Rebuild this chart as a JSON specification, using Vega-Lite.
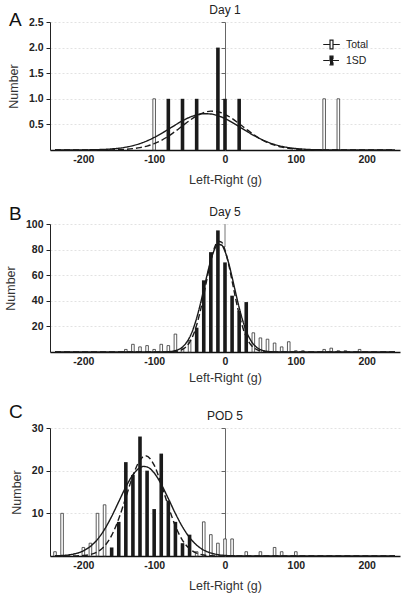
{
  "$schema": "https://vega.github.io/schema/vega-lite/v6.json",
  "padding": {"left": 4, "top": 4, "right": 2, "bottom": 2},
  "spacing": 19,
  "datasets": {
    "barsA": [
      {"x": -100, "n": 1, "g": "Total"}, {"x": -80, "n": 1, "g": "1SD"}, {"x": -60, "n": 1, "g": "1SD"},
      {"x": -40, "n": 1, "g": "1SD"}, {"x": -10, "n": 2, "g": "1SD"}, {"x": 0, "n": 1, "g": "1SD"},
      {"x": 20, "n": 1, "g": "1SD"}, {"x": 140, "n": 1, "g": "Total"}, {"x": 160, "n": 1, "g": "Total"}
    ],
    "curveA": [
      {"x": -240, "v": 0, "s": "Total"}, {"x": -220, "v": 0.0004, "s": "Total"}, {"x": -200, "v": 0.002, "s": "Total"},
      {"x": -180, "v": 0.007, "s": "Total"}, {"x": -170, "v": 0.012, "s": "Total"}, {"x": -160, "v": 0.021, "s": "Total"},
      {"x": -150, "v": 0.034, "s": "Total"}, {"x": -140, "v": 0.055, "s": "Total"}, {"x": -130, "v": 0.085, "s": "Total"},
      {"x": -120, "v": 0.126, "s": "Total"}, {"x": -110, "v": 0.179, "s": "Total"}, {"x": -100, "v": 0.245, "s": "Total"},
      {"x": -90, "v": 0.321, "s": "Total"}, {"x": -80, "v": 0.405, "s": "Total"}, {"x": -70, "v": 0.49, "s": "Total"},
      {"x": -60, "v": 0.571, "s": "Total"}, {"x": -50, "v": 0.639, "s": "Total"}, {"x": -40, "v": 0.686, "s": "Total"},
      {"x": -30, "v": 0.709, "s": "Total"}, {"x": -20, "v": 0.703, "s": "Total"}, {"x": -10, "v": 0.67, "s": "Total"},
      {"x": 0, "v": 0.614, "s": "Total"}, {"x": 10, "v": 0.54, "s": "Total"}, {"x": 20, "v": 0.456, "s": "Total"},
      {"x": 30, "v": 0.371, "s": "Total"}, {"x": 40, "v": 0.289, "s": "Total"}, {"x": 50, "v": 0.217, "s": "Total"},
      {"x": 60, "v": 0.156, "s": "Total"}, {"x": 70, "v": 0.108, "s": "Total"}, {"x": 80, "v": 0.072, "s": "Total"},
      {"x": 90, "v": 0.046, "s": "Total"}, {"x": 100, "v": 0.028, "s": "Total"}, {"x": 110, "v": 0.017, "s": "Total"},
      {"x": 120, "v": 0.009, "s": "Total"}, {"x": 130, "v": 0.005, "s": "Total"}, {"x": 140, "v": 0.003, "s": "Total"},
      {"x": 160, "v": 0.001, "s": "Total"}, {"x": 180, "v": 0, "s": "Total"}, {"x": 200, "v": 0, "s": "Total"},
      {"x": 240, "v": 0, "s": "Total"},
      {"x": -240, "v": 0, "s": "1SD"}, {"x": -200, "v": 0.0001, "s": "1SD"}, {"x": -180, "v": 0.0006, "s": "1SD"},
      {"x": -170, "v": 0.0015, "s": "1SD"}, {"x": -160, "v": 0.003, "s": "1SD"}, {"x": -150, "v": 0.007, "s": "1SD"},
      {"x": -140, "v": 0.014, "s": "1SD"}, {"x": -130, "v": 0.026, "s": "1SD"}, {"x": -120, "v": 0.046, "s": "1SD"},
      {"x": -110, "v": 0.077, "s": "1SD"}, {"x": -100, "v": 0.123, "s": "1SD"}, {"x": -90, "v": 0.187, "s": "1SD"},
      {"x": -80, "v": 0.269, "s": "1SD"}, {"x": -70, "v": 0.366, "s": "1SD"}, {"x": -60, "v": 0.472, "s": "1SD"},
      {"x": -50, "v": 0.576, "s": "1SD"}, {"x": -40, "v": 0.667, "s": "1SD"}, {"x": -30, "v": 0.731, "s": "1SD"},
      {"x": -20, "v": 0.759, "s": "1SD"}, {"x": -10, "v": 0.747, "s": "1SD"}, {"x": 0, "v": 0.696, "s": "1SD"},
      {"x": 10, "v": 0.615, "s": "1SD"}, {"x": 20, "v": 0.514, "s": "1SD"}, {"x": 30, "v": 0.408, "s": "1SD"},
      {"x": 40, "v": 0.306, "s": "1SD"}, {"x": 50, "v": 0.218, "s": "1SD"}, {"x": 60, "v": 0.147, "s": "1SD"},
      {"x": 70, "v": 0.094, "s": "1SD"}, {"x": 80, "v": 0.057, "s": "1SD"}, {"x": 90, "v": 0.032, "s": "1SD"},
      {"x": 100, "v": 0.018, "s": "1SD"}, {"x": 110, "v": 0.009, "s": "1SD"}, {"x": 120, "v": 0.004, "s": "1SD"},
      {"x": 130, "v": 0.002, "s": "1SD"}, {"x": 140, "v": 0.001, "s": "1SD"}, {"x": 160, "v": 0, "s": "1SD"},
      {"x": 200, "v": 0, "s": "1SD"}, {"x": 240, "v": 0, "s": "1SD"}
    ],
    "barsB": [
      {"x": -140, "n": 2, "g": "Total"}, {"x": -130, "n": 6, "g": "Total"}, {"x": -120, "n": 4, "g": "Total"},
      {"x": -110, "n": 5, "g": "Total"}, {"x": -100, "n": 2, "g": "Total"}, {"x": -90, "n": 6, "g": "Total"},
      {"x": -80, "n": 5, "g": "Total"}, {"x": -70, "n": 14, "g": "Total"}, {"x": -60, "n": 3, "g": "Total"},
      {"x": -50, "n": 9, "g": "Total"}, {"x": -40, "n": 19, "g": "1SD"}, {"x": -30, "n": 56, "g": "1SD"},
      {"x": -20, "n": 78, "g": "1SD"}, {"x": -10, "n": 95, "g": "1SD"}, {"x": 0, "n": 70, "g": "1SD"},
      {"x": 10, "n": 44, "g": "1SD"}, {"x": 20, "n": 32, "g": "1SD"}, {"x": 30, "n": 39, "g": "1SD"},
      {"x": 40, "n": 15, "g": "Total"}, {"x": 50, "n": 11, "g": "Total"}, {"x": 60, "n": 10, "g": "Total"},
      {"x": 70, "n": 7, "g": "Total"}, {"x": 80, "n": 4, "g": "Total"}, {"x": 90, "n": 8, "g": "Total"},
      {"x": 100, "n": 1, "g": "Total"}, {"x": 110, "n": 1, "g": "Total"}, {"x": 140, "n": 2, "g": "Total"},
      {"x": 150, "n": 3, "g": "Total"}, {"x": 160, "n": 1, "g": "Total"}, {"x": 170, "n": 1, "g": "Total"},
      {"x": 190, "n": 2, "g": "Total"}
    ],
    "curveB": [
      {"x": -240, "v": 0, "s": "Total"}, {"x": -160, "v": 0, "s": "Total"}, {"x": -120, "v": 0, "s": "Total"},
      {"x": -110, "v": 0, "s": "Total"}, {"x": -100, "v": 0.01, "s": "Total"}, {"x": -90, "v": 0.04, "s": "Total"},
      {"x": -80, "v": 0.24, "s": "Total"}, {"x": -70, "v": 1.08, "s": "Total"}, {"x": -65, "v": 2.1, "s": "Total"},
      {"x": -60, "v": 3.9, "s": "Total"}, {"x": -55, "v": 6.9, "s": "Total"}, {"x": -50, "v": 11.4, "s": "Total"},
      {"x": -45, "v": 17.9, "s": "Total"}, {"x": -40, "v": 26.5, "s": "Total"}, {"x": -35, "v": 37.0, "s": "Total"},
      {"x": -30, "v": 48.8, "s": "Total"}, {"x": -25, "v": 60.9, "s": "Total"}, {"x": -20, "v": 71.8, "s": "Total"},
      {"x": -15, "v": 79.9, "s": "Total"}, {"x": -10, "v": 84.1, "s": "Total"}, {"x": -5, "v": 83.6, "s": "Total"},
      {"x": 0, "v": 78.6, "s": "Total"}, {"x": 5, "v": 69.8, "s": "Total"}, {"x": 10, "v": 58.5, "s": "Total"},
      {"x": 15, "v": 46.4, "s": "Total"}, {"x": 20, "v": 34.7, "s": "Total"}, {"x": 25, "v": 24.6, "s": "Total"},
      {"x": 30, "v": 16.4, "s": "Total"}, {"x": 35, "v": 10.4, "s": "Total"}, {"x": 40, "v": 6.2, "s": "Total"},
      {"x": 45, "v": 3.5, "s": "Total"}, {"x": 50, "v": 1.87, "s": "Total"}, {"x": 55, "v": 0.94, "s": "Total"},
      {"x": 60, "v": 0.45, "s": "Total"}, {"x": 70, "v": 0.09, "s": "Total"}, {"x": 80, "v": 0.01, "s": "Total"},
      {"x": 90, "v": 0, "s": "Total"}, {"x": 120, "v": 0, "s": "Total"}, {"x": 160, "v": 0, "s": "Total"},
      {"x": 240, "v": 0, "s": "Total"},
      {"x": -240, "v": 0, "s": "1SD"}, {"x": -160, "v": 0, "s": "1SD"}, {"x": -100, "v": 0, "s": "1SD"},
      {"x": -90, "v": 0.01, "s": "1SD"}, {"x": -80, "v": 0.07, "s": "1SD"}, {"x": -70, "v": 0.42, "s": "1SD"},
      {"x": -65, "v": 0.97, "s": "1SD"}, {"x": -60, "v": 2.06, "s": "1SD"}, {"x": -55, "v": 4.1, "s": "1SD"},
      {"x": -50, "v": 7.6, "s": "1SD"}, {"x": -45, "v": 13.1, "s": "1SD"}, {"x": -40, "v": 21.1, "s": "1SD"},
      {"x": -35, "v": 31.7, "s": "1SD"}, {"x": -30, "v": 44.5, "s": "1SD"}, {"x": -25, "v": 58.3, "s": "1SD"},
      {"x": -20, "v": 71.3, "s": "1SD"}, {"x": -15, "v": 81.3, "s": "1SD"}, {"x": -10, "v": 86.5, "s": "1SD"},
      {"x": -5, "v": 85.9, "s": "1SD"}, {"x": 0, "v": 79.6, "s": "1SD"}, {"x": 5, "v": 68.8, "s": "1SD"},
      {"x": 10, "v": 55.5, "s": "1SD"}, {"x": 15, "v": 41.8, "s": "1SD"}, {"x": 20, "v": 29.4, "s": "1SD"},
      {"x": 25, "v": 19.3, "s": "1SD"}, {"x": 30, "v": 11.8, "s": "1SD"}, {"x": 35, "v": 6.7, "s": "1SD"},
      {"x": 40, "v": 3.6, "s": "1SD"}, {"x": 45, "v": 1.8, "s": "1SD"}, {"x": 50, "v": 0.8, "s": "1SD"},
      {"x": 55, "v": 0.36, "s": "1SD"}, {"x": 60, "v": 0.15, "s": "1SD"}, {"x": 70, "v": 0.02, "s": "1SD"},
      {"x": 80, "v": 0, "s": "1SD"}, {"x": 120, "v": 0, "s": "1SD"}, {"x": 160, "v": 0, "s": "1SD"},
      {"x": 240, "v": 0, "s": "1SD"}
    ],
    "barsC": [
      {"x": -240, "n": 1, "g": "Total"}, {"x": -230, "n": 10, "g": "Total"}, {"x": -200, "n": 2, "g": "Total"},
      {"x": -190, "n": 3, "g": "Total"}, {"x": -180, "n": 10, "g": "Total"}, {"x": -170, "n": 12, "g": "Total"},
      {"x": -160, "n": 2, "g": "1SD"}, {"x": -150, "n": 8, "g": "1SD"}, {"x": -140, "n": 22, "g": "1SD"},
      {"x": -130, "n": 19, "g": "1SD"}, {"x": -120, "n": 28, "g": "1SD"}, {"x": -110, "n": 20, "g": "1SD"},
      {"x": -100, "n": 11, "g": "1SD"}, {"x": -90, "n": 24, "g": "1SD"}, {"x": -80, "n": 13, "g": "1SD"},
      {"x": -70, "n": 8, "g": "1SD"}, {"x": -60, "n": 3, "g": "1SD"}, {"x": -50, "n": 5, "g": "1SD"},
      {"x": -40, "n": 1, "g": "Total"}, {"x": -30, "n": 8, "g": "Total"}, {"x": -20, "n": 5, "g": "Total"},
      {"x": -10, "n": 3, "g": "Total"}, {"x": 0, "n": 4, "g": "Total"}, {"x": 10, "n": 4, "g": "Total"},
      {"x": 30, "n": 1, "g": "Total"}, {"x": 50, "n": 1, "g": "Total"}, {"x": 70, "n": 2, "g": "Total"},
      {"x": 80, "n": 1, "g": "Total"}, {"x": 100, "n": 1, "g": "Total"}
    ],
    "curveC": [
      {"x": -240, "v": 0.05, "s": "Total"}, {"x": -230, "v": 0.12, "s": "Total"}, {"x": -220, "v": 0.28, "s": "Total"},
      {"x": -210, "v": 0.6, "s": "Total"}, {"x": -200, "v": 1.21, "s": "Total"}, {"x": -190, "v": 2.26, "s": "Total"},
      {"x": -180, "v": 3.91, "s": "Total"}, {"x": -170, "v": 6.26, "s": "Total"}, {"x": -160, "v": 9.28, "s": "Total"},
      {"x": -150, "v": 12.74, "s": "Total"}, {"x": -140, "v": 16.18, "s": "Total"}, {"x": -130, "v": 19.02, "s": "Total"},
      {"x": -120, "v": 20.71, "s": "Total"}, {"x": -115, "v": 21.0, "s": "Total"}, {"x": -110, "v": 20.87, "s": "Total"},
      {"x": -100, "v": 19.47, "s": "Total"}, {"x": -90, "v": 16.81, "s": "Total"}, {"x": -80, "v": 13.45, "s": "Total"},
      {"x": -70, "v": 9.95, "s": "Total"}, {"x": -60, "v": 6.82, "s": "Total"}, {"x": -50, "v": 4.33, "s": "Total"},
      {"x": -40, "v": 2.54, "s": "Total"}, {"x": -30, "v": 1.38, "s": "Total"}, {"x": -20, "v": 0.7, "s": "Total"},
      {"x": -10, "v": 0.32, "s": "Total"}, {"x": 0, "v": 0.14, "s": "Total"}, {"x": 10, "v": 0.06, "s": "Total"},
      {"x": 20, "v": 0.02, "s": "Total"}, {"x": 30, "v": 0.01, "s": "Total"}, {"x": 40, "v": 0, "s": "Total"},
      {"x": 80, "v": 0, "s": "Total"}, {"x": 160, "v": 0, "s": "Total"}, {"x": 240, "v": 0, "s": "Total"},
      {"x": -240, "v": 0, "s": "1SD"}, {"x": -220, "v": 0.01, "s": "1SD"}, {"x": -210, "v": 0.03, "s": "1SD"},
      {"x": -200, "v": 0.12, "s": "1SD"}, {"x": -190, "v": 0.36, "s": "1SD"}, {"x": -180, "v": 0.99, "s": "1SD"},
      {"x": -170, "v": 2.34, "s": "1SD"}, {"x": -160, "v": 4.84, "s": "1SD"}, {"x": -150, "v": 8.73, "s": "1SD"},
      {"x": -140, "v": 13.72, "s": "1SD"}, {"x": -130, "v": 18.82, "s": "1SD"}, {"x": -120, "v": 22.49, "s": "1SD"},
      {"x": -112, "v": 23.5, "s": "1SD"}, {"x": -100, "v": 21.29, "s": "1SD"}, {"x": -90, "v": 16.86, "s": "1SD"},
      {"x": -80, "v": 11.64, "s": "1SD"}, {"x": -70, "v": 7.0, "s": "1SD"}, {"x": -60, "v": 3.68, "s": "1SD"},
      {"x": -50, "v": 1.68, "s": "1SD"}, {"x": -40, "v": 0.67, "s": "1SD"}, {"x": -30, "v": 0.23, "s": "1SD"},
      {"x": -20, "v": 0.07, "s": "1SD"}, {"x": -10, "v": 0.02, "s": "1SD"}, {"x": 0, "v": 0, "s": "1SD"},
      {"x": 80, "v": 0, "s": "1SD"}, {"x": 160, "v": 0, "s": "1SD"}, {"x": 240, "v": 0, "s": "1SD"}
    ]
  },
  "vconcat": [
    {
      "width": 350, "height": 128,
      "title": {"text": "Day 1", "offset": -6},
      "resolve": {"axis": {"y": "independent"}},
      "layer": [
        {
          "data": {"name": "barsA"},
          "transform": [{"filter": "datum.g === 'Total'"}],
          "mark": {"type": "bar", "size": 2.6, "fill": "white", "stroke": "#333", "strokeWidth": 0.8},
          "encoding": {
            "x": {"field": "x", "type": "quantitative", "scale": {"domain": [-240, 240], "nice": false},
                  "axis": {"values": [-200, -100, 0, 100, 200], "labelExpr": "datum.value + ''", "title": "Left-Right (g)", "ticks": false, "grid": false, "domainWidth": 1.5, "domainColor": "#111", "labelPadding": 4, "titlePadding": 9}},
            "y": {"field": "n", "type": "quantitative", "scale": {"domain": [0, 2.5], "nice": false},
                  "axis": {"values": [0.5, 1, 1.5, 2, 2.5], "format": ".1f", "title": "Number", "grid": true, "gridColor": "#e2e2e2", "gridDash": [2, 2], "tickSize": 4, "labelPadding": 3, "titlePadding": 8}}
          }
        },
        {
          "data": {"name": "barsA"},
          "transform": [{"filter": "datum.g === '1SD'"}],
          "mark": {"type": "bar", "size": 3.6, "fill": "#1a1a1a"},
          "encoding": {
            "x": {"field": "x", "type": "quantitative", "scale": {"domain": [-240, 240], "nice": false}},
            "y": {"field": "n", "type": "quantitative", "scale": {"domain": [0, 2.5], "nice": false}, "axis": null}
          }
        },
        {
          "data": {"name": "curveA"},
          "mark": {"type": "line", "interpolate": "monotone", "stroke": "#1a1a1a", "strokeWidth": 1.4},
          "encoding": {
            "x": {"field": "x", "type": "quantitative", "scale": {"domain": [-240, 240], "nice": false}},
            "y": {"field": "v", "type": "quantitative", "scale": {"domain": [0, 2.5], "nice": false},
                  "axis": {"orient": "left", "offset": -175, "labels": false, "title": null, "grid": false, "domainColor": "#666", "tickColor": "#666", "tickSize": 4, "values": [0.5, 1, 1.5, 2, 2.5]}},
            "strokeDash": {"field": "s", "type": "nominal", "scale": {"domain": ["Total", "1SD"], "range": [[1, 0], [6, 3]]},
                  "legend": {"title": null, "orient": "none", "legendX": 275, "legendY": 16, "symbolType": "M-1.45,0H-0.26M0.26,0H1.45M-0.26,-0.75H0.26V0.75H-0.26Z", "symbolSize": 130, "symbolStrokeWidth": 1.2, "symbolStrokeColor": "#1a1a1a", "labelOffset": 8, "rowPadding": 1, "padding": 0,
                             "encode": {"symbols": {"update": {"fill": {"signal": "datum.value === '1SD' ? '#1a1a1a' : 'white'"}, "stroke": {"value": "#1a1a1a"}, "strokeWidth": {"value": 1.2}, "opacity": {"value": 1}}}}}}
          }
        },
        {
          "data": {"values": [{}]},
          "mark": {"type": "text", "align": "left", "baseline": "middle", "dx": -46, "dy": -2, "fontSize": 19, "color": "#111"},
          "encoding": {
            "x": {"datum": -240, "type": "quantitative"},
            "y": {"datum": 2.5, "type": "quantitative", "axis": null},
            "text": {"value": "A"}
          }
        }
      ]
    },
    {
      "width": 350, "height": 128,
      "title": {"text": "Day 5", "offset": -14},
      "resolve": {"axis": {"y": "independent"}},
      "layer": [
        {
          "data": {"name": "barsB"},
          "transform": [{"filter": "datum.g === 'Total'"}],
          "mark": {"type": "bar", "size": 2.6, "fill": "white", "stroke": "#333", "strokeWidth": 0.8},
          "encoding": {
            "x": {"field": "x", "type": "quantitative", "scale": {"domain": [-240, 240], "nice": false},
                  "axis": {"values": [-200, -100, 0, 100, 200], "labelExpr": "datum.value + ''", "title": "Left-Right (g)", "ticks": false, "grid": false, "domainWidth": 1.5, "domainColor": "#111", "labelPadding": 4, "titlePadding": 5}},
            "y": {"field": "n", "type": "quantitative", "scale": {"domain": [0, 100], "nice": false},
                  "axis": {"values": [20, 40, 60, 80, 100], "format": "d", "title": "Number", "grid": true, "gridColor": "#e2e2e2", "gridDash": [2, 2], "tickSize": 4, "labelPadding": 3, "titlePadding": 8}}
          }
        },
        {
          "data": {"name": "barsB"},
          "transform": [{"filter": "datum.g === '1SD'"}],
          "mark": {"type": "bar", "size": 3.6, "fill": "#1a1a1a"},
          "encoding": {
            "x": {"field": "x", "type": "quantitative", "scale": {"domain": [-240, 240], "nice": false}},
            "y": {"field": "n", "type": "quantitative", "scale": {"domain": [0, 100], "nice": false}, "axis": null}
          }
        },
        {
          "data": {"values": [{}]},
          "mark": {"type": "rule", "stroke": "#777", "strokeWidth": 1},
          "encoding": {
            "x": {"datum": 0, "type": "quantitative"},
            "y": {"datum": 82, "type": "quantitative", "axis": null},
            "y2": {"datum": 100}
          }
        },
        {
          "data": {"name": "curveB"},
          "mark": {"type": "line", "interpolate": "monotone", "stroke": "#1a1a1a", "strokeWidth": 1.4},
          "encoding": {
            "x": {"field": "x", "type": "quantitative", "scale": {"domain": [-240, 240], "nice": false}},
            "y": {"field": "v", "type": "quantitative", "scale": {"domain": [0, 100], "nice": false}, "axis": null},
            "strokeDash": {"field": "s", "type": "nominal", "scale": {"domain": ["Total", "1SD"], "range": [[1, 0], [6, 3]]},
                  "legend": {"title": null, "orient": "none", "legendX": 278, "legendY": 16, "symbolType": "M-1.45,0H-0.26M0.26,0H1.45M-0.26,-0.75H0.26V0.75H-0.26Z", "symbolSize": 130, "symbolStrokeWidth": 1.2, "symbolStrokeColor": "#1a1a1a", "labelOffset": 8, "rowPadding": 1, "padding": 0,
                             "encode": {"symbols": {"update": {"fill": {"signal": "datum.value === '1SD' ? '#1a1a1a' : 'white'"}, "stroke": {"value": "#1a1a1a"}, "strokeWidth": {"value": 1.2}, "opacity": {"value": 1}}}}}}
          }
        },
        {
          "data": {"values": [{}]},
          "mark": {"type": "text", "align": "left", "baseline": "middle", "dx": -46, "dy": -10, "fontSize": 19, "color": "#111"},
          "encoding": {
            "x": {"datum": -240, "type": "quantitative"},
            "y": {"datum": 100, "type": "quantitative", "axis": null},
            "text": {"value": "B"}
          }
        }
      ]
    },
    {
      "width": 350, "height": 128,
      "title": {"text": "POD 5", "offset": -20},
      "resolve": {"axis": {"y": "independent"}},
      "layer": [
        {
          "data": {"name": "barsC"},
          "transform": [{"filter": "datum.g === 'Total'"}],
          "mark": {"type": "bar", "size": 2.6, "fill": "white", "stroke": "#333", "strokeWidth": 0.8},
          "encoding": {
            "x": {"field": "x", "type": "quantitative", "scale": {"domain": [-240, 240], "nice": false},
                  "axis": {"values": [-200, -100, 0, 100, 200], "labelExpr": "datum.value + ''", "title": "Left-Right (g)", "ticks": false, "grid": false, "domainWidth": 1.5, "domainColor": "#111", "labelPadding": 4, "titlePadding": 9}},
            "y": {"field": "n", "type": "quantitative", "scale": {"domain": [0, 30], "nice": false},
                  "axis": {"values": [10, 20, 30], "format": "d", "title": "Number", "grid": true, "gridColor": "#e2e2e2", "gridDash": [2, 2], "tickSize": 4, "labelPadding": 3, "titlePadding": 8}}
          }
        },
        {
          "data": {"name": "barsC"},
          "transform": [{"filter": "datum.g === '1SD'"}],
          "mark": {"type": "bar", "size": 3.6, "fill": "#1a1a1a"},
          "encoding": {
            "x": {"field": "x", "type": "quantitative", "scale": {"domain": [-240, 240], "nice": false}},
            "y": {"field": "n", "type": "quantitative", "scale": {"domain": [0, 30], "nice": false}, "axis": null}
          }
        },
        {
          "data": {"name": "curveC"},
          "mark": {"type": "line", "interpolate": "monotone", "stroke": "#1a1a1a", "strokeWidth": 1.4},
          "encoding": {
            "x": {"field": "x", "type": "quantitative", "scale": {"domain": [-240, 240], "nice": false}},
            "y": {"field": "v", "type": "quantitative", "scale": {"domain": [0, 30], "nice": false},
                  "axis": {"orient": "left", "offset": -175, "labels": false, "title": null, "grid": false, "domainColor": "#666", "tickColor": "#666", "tickSize": 4, "values": [10, 20, 30]}},
            "strokeDash": {"field": "s", "type": "nominal", "scale": {"domain": ["Total", "1SD"], "range": [[1, 0], [6, 3]]},
                  "legend": {"title": null, "orient": "none", "legendX": 276, "legendY": 16, "symbolType": "M-1.45,0H-0.26M0.26,0H1.45M-0.26,-0.75H0.26V0.75H-0.26Z", "symbolSize": 130, "symbolStrokeWidth": 1.2, "symbolStrokeColor": "#1a1a1a", "labelOffset": 8, "rowPadding": 1, "padding": 0,
                             "encode": {"symbols": {"update": {"fill": {"signal": "datum.value === '1SD' ? '#1a1a1a' : 'white'"}, "stroke": {"value": "#1a1a1a"}, "strokeWidth": {"value": 1.2}, "opacity": {"value": 1}}}}}}
          }
        },
        {
          "data": {"values": [{}]},
          "mark": {"type": "text", "align": "left", "baseline": "middle", "dx": -46, "dy": -16, "fontSize": 19, "color": "#111"},
          "encoding": {
            "x": {"datum": -240, "type": "quantitative"},
            "y": {"datum": 30, "type": "quantitative", "axis": null},
            "text": {"value": "C"}
          }
        }
      ]
    }
  ],
  "config": {
    "font": "Liberation Sans",
    "view": {"stroke": null},
    "axis": {"labelFontWeight": "bold", "labelFontSize": 10.5, "labelColor": "#222", "titleFontWeight": "normal", "titleFontSize": 12.5, "titleColor": "#333", "domainColor": "#222", "tickColor": "#222"},
    "title": {"fontSize": 12, "fontWeight": "normal", "color": "#222", "offset": 6},
    "legend": {"labelFontSize": 10.5, "labelColor": "#222"}
  }
}
